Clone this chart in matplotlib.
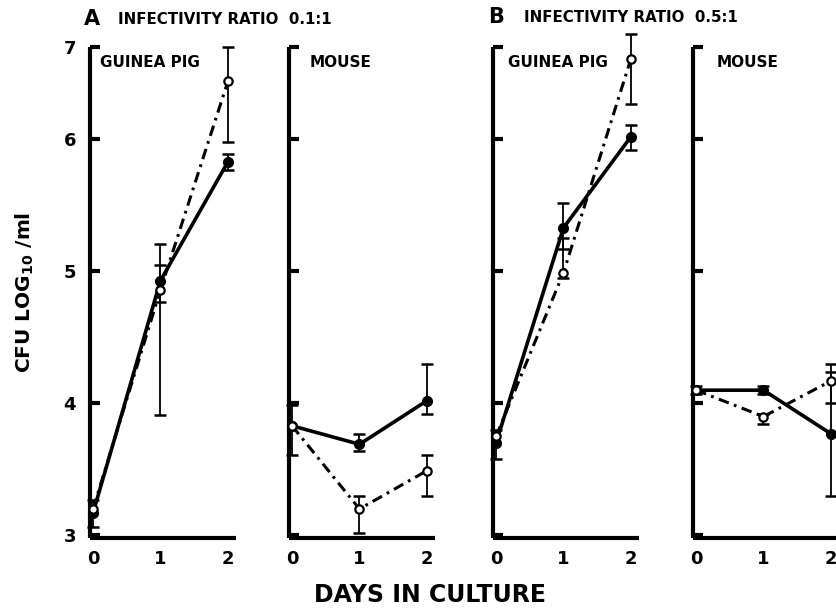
import matplotlib
matplotlib.use('Agg')
import matplotlib.pyplot as plt
import numpy as np

plt.rcParams['font.family'] = ['DejaVu Sans']
plt.rcParams['font.weight'] = 'bold'

days = [0, 1, 2]

# CFU log10/ml, filled circles (solid) and open circles (dash-dot); err = lower, upper ends
gp_a_filled = [3.17, 4.93, 5.83]
gp_a_filled_lo = [3.06, 4.77, 5.77]
gp_a_filled_hi = [3.27, 5.05, 5.89]
gp_a_open = [3.20, 4.86, 6.44]
gp_a_open_lo = [3.20, 3.91, 5.98]
gp_a_open_hi = [3.20, 5.21, 6.70]

mouse_a_filled = [3.83, 3.69, 4.02]
mouse_a_filled_lo = [3.61, 3.64, 3.92]
mouse_a_filled_hi = [3.99, 3.77, 4.30]
mouse_a_open = [3.83, 3.20, 3.49]
mouse_a_open_lo = [3.83, 3.02, 3.30]
mouse_a_open_hi = [3.83, 3.30, 3.61]

gp_b_filled = [3.70, 5.33, 6.02]
gp_b_filled_lo = [3.58, 5.17, 5.92]
gp_b_filled_hi = [3.80, 5.52, 6.11]
gp_b_open = [3.75, 4.99, 6.61]
gp_b_open_lo = [3.75, 4.95, 6.27]
gp_b_open_hi = [3.75, 5.25, 6.80]

mouse_b_filled = [4.10, 4.10, 3.77]
mouse_b_filled_lo = [4.07, 4.07, 3.30]
mouse_b_filled_hi = [4.13, 4.13, 4.24]
mouse_b_open = [4.10, 3.90, 4.17]
mouse_b_open_lo = [4.10, 3.84, 4.00]
mouse_b_open_hi = [4.10, 3.92, 4.30]

ytick_vals = [3, 4, 5, 6, 6.70]
ytick_labels = ['3', '4', '5', '6', '7']
panel_names = ['GUINEA PIG', 'MOUSE', 'GUINEA PIG', 'MOUSE']
name_x = [0.07, 0.14, 0.10, 0.16]

panels = [
    (gp_a_filled, gp_a_filled_lo, gp_a_filled_hi, gp_a_open, gp_a_open_lo, gp_a_open_hi),
    (mouse_a_filled, mouse_a_filled_lo, mouse_a_filled_hi, mouse_a_open, mouse_a_open_lo, mouse_a_open_hi),
    (gp_b_filled, gp_b_filled_lo, gp_b_filled_hi, gp_b_open, gp_b_open_lo, gp_b_open_hi),
    (mouse_b_filled, mouse_b_filled_lo, mouse_b_filled_hi, mouse_b_open, mouse_b_open_lo, mouse_b_open_hi),
]

W, H = 837, 608
fig = plt.figure(figsize=(W / 100, H / 100), dpi=100)

lefts = [90, 289, 493, 693]
ax_w = 146
top_px, bot_px = 47, 538


def err_plot(ax, y, lo, hi):
    x = np.array(days, float)
    y = np.array(y)
    lo = np.array(lo)
    hi = np.array(hi)
    m = hi > lo
    ax.errorbar(x[m], y[m], yerr=[y[m] - lo[m], hi[m] - y[m]], fmt='none',
                ecolor='black', elinewidth=1.3, capsize=4, capthick=1.8,
                clip_on=False, zorder=2)


for i, (f, flo, fhi, o, olo, ohi) in enumerate(panels):
    ax = fig.add_axes([lefts[i] / W, 1 - bot_px / H, ax_w / W, (bot_px - top_px) / H])
    ax.set_xlim(-0.045, 2.12)
    ax.set_ylim(2.98, 6.70)

    err_plot(ax, f, flo, fhi)
    err_plot(ax, o, olo, ohi)
    ax.plot(days, f, color='black', lw=2.6, marker='o', ms=7,
            mfc='black', mec='black', clip_on=False, zorder=3)
    ax.plot(days, o, color='black', lw=2.2, linestyle=(0, (3.5, 1.8, 0.9, 1.8)),
            marker='o', ms=6, mfc='white', mec='black', mew=1.6,
            clip_on=False, zorder=4)

    for s in ['top', 'right']:
        ax.spines[s].set_visible(False)
    for s in ['left', 'bottom']:
        ax.spines[s].set_linewidth(3)
        ax.spines[s].set_capstyle('butt')

    ax.set_xticks(days)
    ax.set_xticklabels(['0', '1', '2'], fontsize=13, fontweight='bold')
    ax.tick_params(axis='x', length=0, pad=9)
    ax.set_yticks(ytick_vals)
    ax.tick_params(axis='y', direction='in', length=7, width=3, pad=10)
    if i == 0:
        ax.set_yticklabels(ytick_labels, fontsize=13, fontweight='bold')
    else:
        ax.set_yticklabels([])

    ax.text(name_x[i], 0.968, panel_names[i], transform=ax.transAxes,
            fontsize=11, fontweight='bold', va='center', ha='left')

# panel headings
fig.text(84 / W, 1 - 19 / H, 'A', fontsize=15, fontweight='bold', va='center', ha='left')
fig.text(118 / W, 1 - 19 / H, 'INFECTIVITY RATIO  0.1:1', fontsize=10.8,
         fontweight='bold', va='center', ha='left')
fig.text(488 / W, 1 - 17 / H, 'B', fontsize=15, fontweight='bold', va='center', ha='left')
fig.text(524 / W, 1 - 17 / H, 'INFECTIVITY RATIO  0.5:1', fontsize=10.8,
         fontweight='bold', va='center', ha='left')

fig.text(25 / W, 1 - 292 / H, 'CFU LOG$_{\\mathbf{10}}$ /ml', rotation=90,
         fontsize=14.5, fontweight='bold', va='center', ha='center')
fig.text(430 / W, 1 - 595 / H, 'DAYS IN CULTURE', fontsize=17,
         fontweight='bold', va='center', ha='center')

fig.savefig('out.png', dpi=100)
